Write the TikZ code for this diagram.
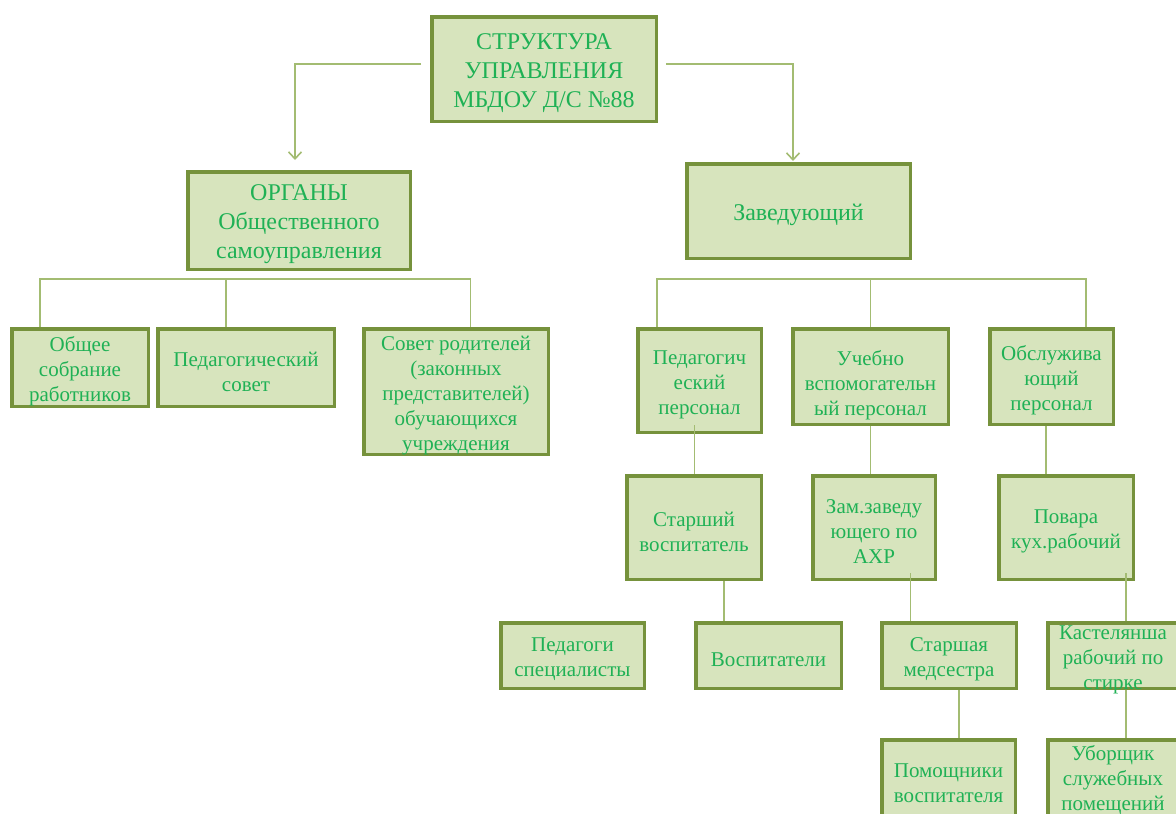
\documentclass[tikz,border=0pt]{standalone}
\usepackage{fontspec}
\setmainfont{Liberation Serif}
\usetikzlibrary{arrows.meta}
\definecolor{boxfill}{HTML}{D7E4BD}
\definecolor{boxline}{HTML}{76923C}
\definecolor{txt}{HTML}{1FB155}
\definecolor{connc}{HTML}{A3BC72}
\tikzset{
  box/.style={draw=boxline, fill=boxfill, line width=3.5pt, inner sep=0pt},
  lbl/.style={text=txt, align=center, inner sep=0pt, yshift=-4pt, font=\fontsize{21}{25}\selectfont},
  biglbl/.style={lbl, font=\fontsize{24}{29}\selectfont},
  conn/.style={draw=connc, line width=1.6pt},
  arr/.style={-{Straight Barb[length=7pt,width=13pt,line width=1.6pt]}},
}
\begin{document}
\begin{tikzpicture}[x=1pt,y=-1pt]
\useasboundingbox (0,0) rectangle (1176,814);
\clip (0,0) rectangle (1176,814);
% level 0
\node[box,minimum width=224.5pt,minimum height=104.5pt,label={[biglbl]center:{СТРУКТУРА\\УПРАВЛЕНИЯ\\МБДОУ Д/С №88}}] (top) at (544,69) {};
% level 1
\node[box,minimum width=222.5pt,minimum height=97.5pt,label={[biglbl]center:{ОРГАНЫ\\Общественного\\самоуправления}}] (org) at (299,220.5) {};
\node[box,minimum width=223.5pt,minimum height=94.5pt,label={[biglbl]center:{Заведующий}}] (zav) at (798.5,211) {};
% left branch
\node[box,minimum width=136.5pt,minimum height=77.5pt,label={[lbl]center:{Общее\\собрание\\работников}}] (obsh) at (80,367.5) {};
\node[box,minimum width=176.5pt,minimum height=77.5pt,label={[lbl]center:{Педагогический\\совет}}] (pedsov) at (246,367.5) {};
\node[box,minimum width=184.5pt,minimum height=125.5pt,label={[lbl]center:{Совет родителей\\(законных\\представителей)\\обучающихся\\учреждения}}] (sovet) at (456,391.5) {};
% right branch level 2
\node[box,minimum width=123.5pt,minimum height=103.5pt,label={[lbl]center:{Педагогич\\еский\\персонал}}] (pedpers) at (699.5,380.5) {};
\node[box,minimum width=155.5pt,minimum height=95.5pt,label={[lbl,yshift=-4.5pt]center:{Учебно\\вспомогательн\\ый персонал}}] (uch) at (870.5,376.5) {};
\node[box,minimum width=123.5pt,minimum height=95.5pt,label={[lbl]center:{Обслужива\\ющий\\персонал}}] (obsl) at (1051.5,376.5) {};
% level 3
\node[box,minimum width=134.5pt,minimum height=103.5pt,label={[lbl]center:{Старший\\воспитатель}}] (star) at (694,527.5) {};
\node[box,minimum width=122.5pt,minimum height=103.5pt,label={[lbl]center:{Зам.заведу\\ющего по\\АХР}}] (zam) at (874,527.5) {};
\node[box,minimum width=134.5pt,minimum height=103.5pt,label={[lbl]center:{Повара\\кух.рабочий}}] (povar) at (1066,527.5) {};
% level 4
\node[box,minimum width=143.5pt,minimum height=65.5pt,label={[lbl]center:{Педагоги\\специалисты}}] (pedspec) at (572.5,655.5) {};
\node[box,minimum width=145.5pt,minimum height=65.5pt,label={[lbl]center:{Воспитатели}}] (vosp) at (768.5,655.5) {};
\node[box,minimum width=134.5pt,minimum height=65.5pt,label={[lbl]center:{Старшая\\медсестра}}] (med) at (949,655.5) {};
\node[box,minimum width=130.5pt,minimum height=65.5pt,label={[lbl]center:{Кастелянша\\рабочий по\\стирке}}] (kast) at (1113,655.5) {};
% level 5
\node[box,minimum width=133.5pt,minimum height=78.5pt,label={[lbl]center:{Помощники\\воспитателя}}] (pom) at (948.5,779) {};
\node[box,minimum width=130.5pt,minimum height=78.5pt,label={[lbl,yshift=3pt]center:{Уборщик\\служебных\\помещений}}] (ubor) at (1113,779) {};
% connectors
\draw[conn,arr] ([xshift=-9pt,yshift=5pt]top.west) -| ([xshift=-4pt,yshift=10pt]org.north);
\draw[conn,arr] ([xshift=8pt,yshift=5pt]top.east) -| ([xshift=-5.5pt,yshift=1pt]zav.north);
\draw[conn] ([xshift=-40pt]obsh.north) -- ++(0,-48) -| ([xshift=14.5pt]sovet.north);
\draw[conn] ([xshift=-20.3pt]pedsov.north) -- ++(0,-48);
\draw[conn] ([xshift=-42.5pt]pedpers.north) -- ++(0,-48) -| ([xshift=34.5pt]obsl.north);
\draw[conn] (uch.north) -- ++(0,-48);
\draw[conn] ([xshift=-5pt,yshift=9pt]pedpers.south) coordinate (c1) -- (c1 |- star.north);
\draw[conn] (uch.south) -- (uch.south |- zam.north);
\draw[conn] ([xshift=-5.5pt]obsl.south) coordinate (c2) -- (c2 |- povar.north);
\draw[conn] ([xshift=29.7pt]star.south) coordinate (c3) -- (c3 |- vosp.north);
\draw[conn] ([xshift=36.5pt,yshift=8pt]zam.south) coordinate (c4) -- (c4 |- med.north);
\draw[conn] ([xshift=59.7pt,yshift=8pt]povar.south) coordinate (c5) -- (c5 |- kast.north);
\draw[conn] ([xshift=10pt]med.south) coordinate (c6) -- (c6 |- pom.north);
\draw[conn] ([xshift=12.7pt]kast.south) coordinate (c7) -- (c7 |- ubor.north);
\end{tikzpicture}
\end{document}
